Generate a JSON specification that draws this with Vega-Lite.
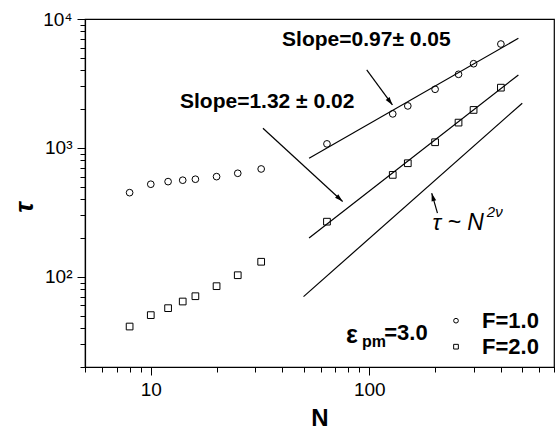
{
  "$schema": "https://vega.github.io/schema/vega-lite/v6.json",
  "width": 469,
  "height": 348,
  "autosize": {"type": "none"},
  "padding": {"left": 85, "top": 19, "right": 3, "bottom": 66},
  "background": "white",
  "config": {
    "view": {"stroke": "black", "strokeWidth": 1.2},
    "font": "Liberation Sans",
    "axis": {"grid": false, "domainColor": "black", "domainWidth": 1.2, "tickColor": "black", "tickWidth": 1, "labelColor": "black", "titleColor": "black", "labelFont": "Liberation Sans", "titleFont": "Liberation Sans"}
  },
  "layer": [
    {
      "data": {"values": [
        {"N": 8, "tau": 450, "F": "F=1.0"},
        {"N": 10, "tau": 523, "F": "F=1.0"},
        {"N": 12, "tau": 548, "F": "F=1.0"},
        {"N": 14, "tau": 562, "F": "F=1.0"},
        {"N": 16, "tau": 572, "F": "F=1.0"},
        {"N": 20, "tau": 599, "F": "F=1.0"},
        {"N": 25, "tau": 636, "F": "F=1.0"},
        {"N": 32, "tau": 687, "F": "F=1.0"},
        {"N": 64, "tau": 1075, "F": "F=1.0"},
        {"N": 128, "tau": 1837, "F": "F=1.0"},
        {"N": 150, "tau": 2118, "F": "F=1.0"},
        {"N": 200, "tau": 2851, "F": "F=1.0"},
        {"N": 256, "tau": 3724, "F": "F=1.0"},
        {"N": 300, "tau": 4500, "F": "F=1.0"},
        {"N": 400, "tau": 6397, "F": "F=1.0"},
        {"N": 8, "tau": 41.2, "F": "F=2.0"},
        {"N": 10, "tau": 50.5, "F": "F=2.0"},
        {"N": 12, "tau": 57.2, "F": "F=2.0"},
        {"N": 14, "tau": 64.4, "F": "F=2.0"},
        {"N": 16, "tau": 70.8, "F": "F=2.0"},
        {"N": 20, "tau": 84.7, "F": "F=2.0"},
        {"N": 25, "tau": 103, "F": "F=2.0"},
        {"N": 32, "tau": 131, "F": "F=2.0"},
        {"N": 64, "tau": 268, "F": "F=2.0"},
        {"N": 128, "tau": 618, "F": "F=2.0"},
        {"N": 150, "tau": 761, "F": "F=2.0"},
        {"N": 200, "tau": 1107, "F": "F=2.0"},
        {"N": 256, "tau": 1572, "F": "F=2.0"},
        {"N": 300, "tau": 1971, "F": "F=2.0"},
        {"N": 400, "tau": 2934, "F": "F=2.0"}
      ]},
      "mark": {"type": "point", "filled": false, "color": "black", "strokeWidth": 1, "size": 45, "opacity": 1},
      "encoding": {
        "x": {
          "field": "N", "type": "quantitative",
          "scale": {"type": "log", "domain": [5, 700], "nice": false},
          "axis": {
            "title": "N", "titleFontSize": 24, "titleFontWeight": "bold", "titleY": 51, "titleBaseline": "middle",
            "values": [5, 6, 7, 8, 9, 10, 20, 30, 40, 50, 60, 70, 80, 90, 100, 200, 300, 400, 500, 600, 700],
            "labelExpr": "datum.value == 10 ? '10' : datum.value == 100 ? '100' : ''",
            "labelFontSize": 19, "labelPadding": 5, "labelOverlap": false, "labelFlush": false,
            "tickSize": {"condition": {"test": "datum.value == 10 || datum.value == 100", "value": 8}, "value": 5}
          }
        },
        "y": {
          "field": "tau", "type": "quantitative",
          "scale": {"type": "log", "domain": [20, 10000], "nice": false},
          "axis": {
            "title": "τ", "titleFontSize": 26, "titleFontWeight": "bold", "titleFontStyle": "italic",
            "titleX": -61, "titleY": 188, "titleAngle": -90, "titleAlign": "center", "titleBaseline": "middle",
            "values": [20, 30, 40, 50, 60, 70, 80, 90, 100, 200, 300, 400, 500, 600, 700, 800, 900, 1000, 2000, 3000, 4000, 5000, 6000, 7000, 8000, 9000, 10000],
            "labelExpr": "datum.value == 100 ? '10²' : datum.value == 1000 ? '10³' : datum.value == 10000 ? '10⁴' : ''",
            "labelFontSize": 19, "labelPadding": 5, "labelOverlap": false, "labelFlush": false,
            "tickSize": {"condition": {"test": "datum.value == 100 || datum.value == 1000 || datum.value == 10000", "value": 8}, "value": 5}
          }
        },
        "shape": {
          "field": "F", "type": "nominal",
          "scale": {"domain": ["F=1.0", "F=2.0"], "range": ["circle", "square"]},
          "legend": {
            "title": null, "orient": "none", "legendX": 360, "legendY": 290.7, "padding": 0,
            "symbolSize": 22, "symbolStrokeColor": "black", "symbolStrokeWidth": 1, "symbolFillColor": "transparent",
            "labelFontSize": 22, "labelFontWeight": "bold", "labelColor": "black", "labelFont": "Liberation Sans",
            "labelOffset": 15, "rowPadding": 4
          }
        }
      }
    },
    {
      "data": {"values": [
        {"seg": "fit1", "N": 53, "tau": 832},
        {"seg": "fit1", "N": 481, "tau": 7079},
        {"seg": "fit2", "N": 53, "tau": 200},
        {"seg": "fit2", "N": 481, "tau": 3681},
        {"seg": "ref", "N": 50, "tau": 70.3},
        {"seg": "ref", "N": 501, "tau": 2223},
        {"seg": "a1", "N": 97.3, "tau": 4027},
        {"seg": "a1", "N": 127.6, "tau": 2154},
        {"seg": "a2", "N": 32.6, "tau": 1422},
        {"seg": "a2", "N": 75.5, "tau": 384},
        {"seg": "a3", "N": 205, "tau": 312},
        {"seg": "a3", "N": 193, "tau": 446}
      ]},
      "mark": {"type": "line", "color": "black", "strokeWidth": 1.2},
      "encoding": {
        "x": {"field": "N", "type": "quantitative"},
        "y": {"field": "tau", "type": "quantitative"},
        "detail": {"field": "seg", "type": "nominal"}
      }
    },
    {
      "data": {"values": [
        {"N": 127.6, "tau": 2154, "dir": 143.4},
        {"N": 75.5, "tau": 384, "dir": 132.5},
        {"N": 193, "tau": 446, "dir": 344.4}
      ]},
      "mark": {"type": "point", "shape": "M0,0L-0.8,2.7L0.8,2.7Z", "filled": true, "color": "black", "size": 36, "opacity": 1},
      "encoding": {
        "x": {"field": "N", "type": "quantitative"},
        "y": {"field": "tau", "type": "quantitative"},
        "angle": {"field": "dir", "type": "quantitative", "scale": null}
      }
    },
    {
      "data": {"values": [
        {"N": 39.9, "tau": 6918, "label": "Slope=0.97± 0.05"},
        {"N": 13.6, "tau": 2255, "label": "Slope=1.32 ± 0.02"}
      ]},
      "mark": {"type": "text", "align": "left", "baseline": "middle", "fontSize": 21, "fontWeight": "bold", "color": "black", "font": "Liberation Sans"},
      "encoding": {
        "x": {"field": "N", "type": "quantitative"},
        "y": {"field": "tau", "type": "quantitative"},
        "text": {"field": "label"}
      }
    },
    {
      "data": {"values": [
        {"N": 78.3, "tau": 35.5, "label": "ε"}
      ]},
      "mark": {"type": "text", "align": "left", "baseline": "middle", "fontSize": 25, "fontWeight": "bold", "color": "black", "font": "Liberation Sans"},
      "encoding": {
        "x": {"field": "N", "type": "quantitative"},
        "y": {"field": "tau", "type": "quantitative"},
        "text": {"field": "label"}
      }
    },
    {
      "data": {"values": [
        {"N": 117, "tau": 36.8, "label": "=3.0"}
      ]},
      "mark": {"type": "text", "align": "left", "baseline": "middle", "fontSize": 22, "fontWeight": "bold", "color": "black", "font": "Liberation Sans"},
      "encoding": {
        "x": {"field": "N", "type": "quantitative"},
        "y": {"field": "tau", "type": "quantitative"},
        "text": {"field": "label"}
      }
    },
    {
      "data": {"values": [
        {"N": 92.5, "tau": 31.5, "label": "pm"}
      ]},
      "mark": {"type": "text", "align": "left", "baseline": "middle", "fontSize": 16, "fontWeight": "bold", "color": "black", "font": "Liberation Sans"},
      "encoding": {
        "x": {"field": "N", "type": "quantitative"},
        "y": {"field": "tau", "type": "quantitative"},
        "text": {"field": "label"}
      }
    },
    {
      "data": {"values": [
        {"N": 194.5, "tau": 264, "label": "τ ~ N"}
      ]},
      "mark": {"type": "text", "align": "left", "baseline": "middle", "fontSize": 23, "fontStyle": "italic", "color": "black", "font": "Liberation Sans"},
      "encoding": {
        "x": {"field": "N", "type": "quantitative"},
        "y": {"field": "tau", "type": "quantitative"},
        "text": {"field": "label"}
      }
    },
    {
      "data": {"values": [
        {"N": 345, "tau": 318, "label": "2ν"}
      ]},
      "mark": {"type": "text", "align": "left", "baseline": "middle", "fontSize": 15, "fontStyle": "italic", "color": "black", "font": "Liberation Sans"},
      "encoding": {
        "x": {"field": "N", "type": "quantitative"},
        "y": {"field": "tau", "type": "quantitative"},
        "text": {"field": "label"}
      }
    }
  ]
}
